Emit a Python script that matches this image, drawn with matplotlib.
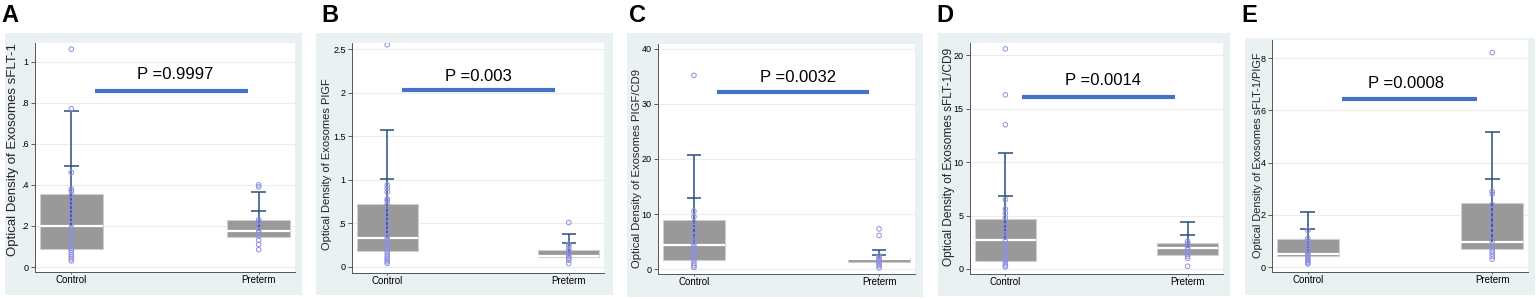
import matplotlib.pyplot as plt
from matplotlib.patches import Rectangle
import numpy as np

# ---- data ----
panel_letters = ['A', 'B', 'C', 'D', 'E']
y_titles = ['Optical Density of Exosomes sFLT-1',
            'Optical Density of Exosomes PIGF',
            'Optical Density of Exosomes PIGF/CD9',
            'Optical Density of Exosomes sFLT-1/CD9',
            'Optical Density of Exosomes sFLT-1/PIGF']
groups = ['Control', 'Preterm']
p_values = ['0.9997', '0.003', '0.0032', '0.0014', '0.0008']
p_line_level = [0.857, 2.03, 32.1, 16.1, 6.44]

q1_control = [0.09, 0.18, 1.6, 0.72, 0.41]
median_control = [0.20, 0.33, 4.4, 2.7, 0.51]
q3_control = [0.355, 0.72, 9.0, 4.68, 1.09]
cap_hi_control = [0.76, 1.57, 20.7, 10.9, 2.11]
cap_lo_control = [0.49, 1.01, 13.0, 6.8, 1.47]

q1_preterm = [0.145, 0.11, 1.25, 1.28, 0.70]
median_preterm = [0.175, 0.125, 1.75, 1.93, 0.96]
q3_preterm = [0.228, 0.20, 2.06, 2.43, 2.46]
cap_hi_preterm = [0.365, 0.38, 3.5, 4.43, 5.16]
cap_lo_preterm = [0.275, 0.27, 2.5, 3.18, 3.37]

pts_control_A = [0.03, 0.04, 0.05, 0.06, 0.07, 0.08, 0.09, 0.10, 0.12, 0.14, 0.15, 0.17,
                 0.19, 0.21, 0.23, 0.25, 0.27, 0.29, 0.31, 0.33, 0.35, 0.37, 0.38, 0.46, 0.77, 1.06]
pts_preterm_A = [0.085, 0.11, 0.13, 0.15, 0.17, 0.18, 0.20, 0.22, 0.23, 0.39, 0.40]
pts_control_B = [0.04, 0.06, 0.08, 0.10, 0.12, 0.15, 0.18, 0.20, 0.23, 0.26, 0.30, 0.33, 0.36,
                 0.40, 0.45, 0.50, 0.55, 0.60, 0.65, 0.72, 0.76, 0.78, 0.86, 0.90, 0.94, 2.55]
pts_preterm_B = [0.04, 0.08, 0.10, 0.12, 0.15, 0.18, 0.20, 0.24, 0.26, 0.51]
pts_control_C = [0.3, 0.6, 1.0, 1.5, 2.0, 2.5, 3.0, 3.5, 4.0, 4.5, 5.0, 5.5, 6.0, 7.0, 8.0,
                 8.5, 9.5, 10.5, 35.2]
pts_preterm_C = [0.2, 0.6, 0.9, 1.2, 1.5, 1.8, 2.1, 2.4, 6.1, 7.3]
pts_control_D = [0.2, 0.3, 0.5, 0.8, 1.0, 1.3, 1.6, 2.0, 2.3, 2.6, 3.0, 3.3, 3.6, 4.0, 4.4,
                 4.8, 5.2, 5.6, 6.5, 13.5, 16.3, 20.6]
pts_preterm_D = [0.25, 1.0, 1.2, 1.4, 1.6, 1.8, 2.0, 2.2, 2.4, 2.6]
pts_control_E = [0.12, 0.16, 0.2, 0.25, 0.3, 0.35, 0.4, 0.45, 0.5, 0.6, 0.7, 0.8, 0.9, 1.0, 1.1, 1.4]
pts_preterm_E = [0.3, 0.4, 0.5, 0.6, 0.7, 0.8, 1.0, 1.2, 1.4, 1.6, 1.8, 2.0, 2.2, 2.4, 2.8,
                 2.9, 8.22]
pts_control = [pts_control_A, pts_control_B, pts_control_C, pts_control_D, pts_control_E]
pts_preterm = [pts_preterm_A, pts_preterm_B, pts_preterm_C, pts_preterm_D, pts_preterm_E]

y_ticks = [[0, 0.2, 0.4, 0.6, 0.8, 1], [0, 0.5, 1, 1.5, 2, 2.5], [0, 10, 20, 30, 40],
           [0, 5, 10, 15, 20], [0, 2, 4, 6, 8]]
y_tick_labels = [['0', '.2', '.4', '.6', '.8', '1'], ['0', '.5', '1', '1.5', '2', '2.5'],
                 ['0', '10', '20', '30', '40'], ['0', '5', '10', '15', '20'],
                 ['0', '2', '4', '6', '8']]
y_limits = [(-0.024, 1.09), (-0.069, 2.57), (-0.9, 40.9), (-0.47, 21.15), (-0.19, 8.7)]

# ---- layout (pixels) ----
W, H = 1536, 299
axes_px = [(35, 295, 43, 272), (352, 604, 43, 273), (658, 915, 44, 274),
           (970, 1223, 43, 274), (1272, 1528, 40, 272)]
bg_px = [(5, 302, 33, 295), (316, 613, 33, 295), (627, 923, 33, 297),
         (938, 1230, 33, 296), (1245, 1535, 38, 295)]
letter_x = [1, 321, 629, 936, 1241]
ylab_offset = [16, 20, 16, 15, 9]        # px from spine to right edge of y title
ylab_center = [150, 164, 168, 157, 155]  # px from top
ylab_len = [215, 172, 200, 220, 206]     # px length of y title
p_line_x = [(0.23, 0.82), (0.20, 0.805), (0.23, 0.82), (0.206, 0.81), (0.273, 0.80)]
p_text_x = [0.54, 0.50, 0.545, 0.526, 0.523]
p_text_y = [0.935, 2.19, 34.9, 17.6, 7.04]

narrow = ['Liberation Sans Narrow', 'Liberation Sans', 'DejaVu Sans']
sans = ['Liberation Sans', 'DejaVu Sans']

fig = plt.figure(figsize=(W / 100, H / 100), dpi=100)
fig.patch.set_facecolor('white')

box_w = 0.336
cap_w = 0.04
whisk_col = '#24507e'
pt_col = '#8f8fe0'
axes_list = []

for i in range(5):
    bx0, bx1, by0, by1 = bg_px[i]
    fig.patches.append(Rectangle((bx0 / W, 1 - by1 / H), (bx1 - bx0) / W, (by1 - by0) / H,
                                 transform=fig.transFigure, facecolor='#e9f1f3',
                                 edgecolor='none', zorder=0))
    l, r, t, b = axes_px[i]
    ax = fig.add_axes([l / W, 1 - b / H, (r - l) / W, (b - t) / H])
    ax.set_facecolor('white')
    ax.set_zorder(1)
    axes_list.append(ax)

    q1 = [q1_control[i], q1_preterm[i]]
    med = [median_control[i], median_preterm[i]]
    q3 = [q3_control[i], q3_preterm[i]]
    chi = [cap_hi_control[i], cap_hi_preterm[i]]
    clo = [cap_lo_control[i], cap_lo_preterm[i]]
    pts = [pts_control[i], pts_preterm[i]]

    for j, x in enumerate([1, 2]):
        ax.bar(x, q3[j] - q1[j], bottom=q1[j], width=box_w, color='#999999',
               edgecolor='#cfcfcf', linewidth=0.8, zorder=2)
        ax.hlines(med[j], x - box_w / 2, x + box_w / 2, color='white', lw=1.6, zorder=3)
        ax.vlines(x, med[j], chi[j], color=whisk_col, lw=1.1, zorder=4)
        ax.hlines([chi[j], clo[j]], x - cap_w, x + cap_w, color=whisk_col, lw=1.1, zorder=4)
        ax.scatter(np.full(len(pts[j]), x), pts[j], s=11, facecolors='none',
                   edgecolors=pt_col, linewidths=0.7, zorder=5)

    x0, x1 = p_line_x[i]
    ax.plot([x0, x1], [p_line_level[i]] * 2, color='#4472c4', lw=3,
            transform=ax.get_yaxis_transform(), solid_capstyle='butt', zorder=6)
    ax.text(p_text_x[i], p_text_y[i], 'P =' + p_values[i], transform=ax.get_yaxis_transform(),
            ha='center', va='center', fontsize=12, family=sans, zorder=7)

    ax.set_xlim(0.806, 2.194)
    ax.set_ylim(*y_limits[i])
    ax.set_xticks([1, 2])
    ax.set_xticklabels(groups, family=narrow, fontsize=7)
    ax.set_yticks(y_ticks[i])
    ax.set_yticklabels(y_tick_labels[i], family=narrow, fontsize=6.5)
    ax.tick_params(axis='y', length=3, width=0.6, color='#444444', pad=1.5)
    ax.tick_params(axis='x', length=1.5, width=0.6, color='#444444', pad=0.5)
    ax.yaxis.grid(True, color='#ececec', lw=0.8)
    ax.set_axisbelow(True)
    for s in ['top', 'right']:
        ax.spines[s].set_visible(False)
    for s in ['left', 'bottom']:
        ax.spines[s].set_color('#555555')
        ax.spines[s].set_linewidth(0.7)
    ax.set_ylabel(y_titles[i], fontsize=9, family=sans, color='#222222')
    ax.yaxis.set_label_coords(-ylab_offset[i] / (r - l), (b - ylab_center[i]) / (b - t))

    fig.text(letter_x[i] / W, 1 - 4 / H, panel_letters[i], fontsize=17, fontweight='bold',
             family=sans, va='top', ha='left')

# scale the y titles to the lengths seen in the reference
fig.canvas.draw()
renderer = fig.canvas.get_renderer()
for i, ax in enumerate(axes_list):
    lab = ax.yaxis.label
    h = lab.get_window_extent(renderer).height
    lab.set_fontsize(9 * ylab_len[i] / h)

fig.savefig('out.png', dpi=100)
